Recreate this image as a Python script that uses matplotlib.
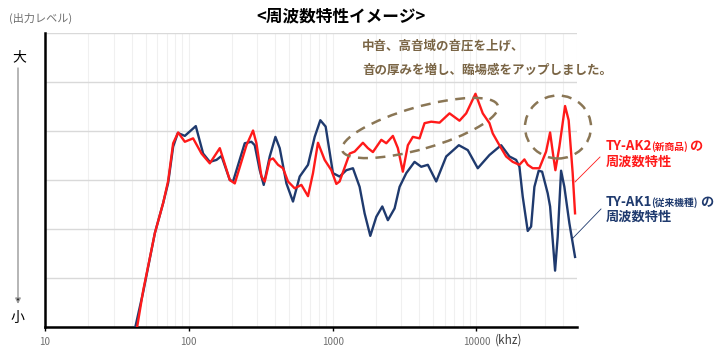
import numpy as np
import matplotlib.pyplot as plt
from matplotlib.patches import Ellipse

plt.rcParams['font.family'] = ['Noto Sans CJK JP', 'DejaVu Sans']

# TY-AK1 (従来機種)
ak1_freq = [41.0, 48.2, 58.1, 66.3, 71.8, 77.8, 83.9, 93.8, 111.8, 125.7, 139.9, 155.7, 168.7,
            192.7, 203, 244.8, 272.5, 287.3, 311.3, 331.7, 365.2, 400, 428.5, 477, 530, 590,
            674, 750, 821, 894, 1005, 1118, 1245, 1384, 1540, 1668, 1827, 2012, 2214, 2421,
            2696, 2920, 3250, 3710, 4130, 4590, 5250, 6160, 7540, 8700, 10210, 12310, 14840,
            16950, 18870, 19890, 20970, 22720, 23980, 25280, 27080, 28600, 31270, 32500,
            33880, 35200, 36700, 38750, 40840, 44240, 48460]
ak1_level = [-2, 7.2, 19.2, 25.3, 29.4, 36.8, 39.6, 39.0, 41.0, 35.4, 33.7, 34.1, 34.9,
             30.0, 29.7, 37.5, 37.8, 37.1, 32.0, 29.0, 34.8, 38.8, 36.5, 29.3, 25.6, 30.7,
             33.1, 38.8, 42.2, 40.9, 31.4, 30.7, 32.0, 32.4, 28.6, 23.2, 18.6, 22.5, 24.6, 21.8,
             24.2, 28.6, 31.4, 33.7, 32.7, 33.1, 29.7, 34.8, 37.1, 36.1, 32.4, 35.1, 37.1,
             34.8, 34.1, 32.7, 26.6, 19.6, 20.5, 28.6, 31.9, 31.7, 27.3, 24.6,
             17.8, 11.5, 18.4, 31.9, 28.6, 21.2, 14.3]

# TY-AK2 (新商品)
ak2_freq = [42.6, 48.2, 58.1, 66.3, 71.8, 77.8, 84.3, 93.8, 107.1, 122.5, 139.9, 164.2, 192.7,
            208.7, 251.6, 279.6, 295.2, 319.8, 337.1, 365.2, 384.9, 417.1, 451.7, 489.4, 544.6,
            606.2, 674, 730, 790.6, 879.9, 979.5, 1061, 1118, 1313, 1422, 1623, 1759, 1905,
            2179, 2360, 2623, 2841, 3077, 3334, 3611, 4020, 4355, 4846, 5535, 6494, 7620,
            8482, 9842, 11060, 12310, 12980, 14440, 16080, 17870, 19890, 21540, 22720,
            24600, 27380, 30480, 32500, 34250, 35380, 37710, 41300, 43750, 46650, 48460]
ak2_level = [-2, 7.5, 19.2, 25.3, 29.8, 37.5, 39.7, 37.8, 38.5, 35.4, 33.4, 36.5, 30.0,
             29.3, 37.1, 40.1, 37.5, 30.7, 29.7, 34.1, 34.4, 33.1, 32.4, 29.7, 28.3,
             29.0, 26.7, 31.4, 37.6, 34.1, 32.0, 29.2, 29.7, 35.4, 35.8, 37.6, 36.5, 35.7,
             38.2, 37.5, 39.0, 36.5, 31.7, 37.1, 38.8, 38.5, 41.6, 41.9, 41.7, 43.6, 42.1,
             43.6, 47.6, 43.6, 41.6, 39.5, 37.1, 34.8, 33.7, 33.1, 34.2, 33.1,
             32.4, 32.4, 35.8, 39.7, 34.8, 32.0, 36.8, 45.1, 42.2, 31.4, 23.2]

xticks = [10, 100, 1000, 10000]
xtick_labels = ['10', '100', '1000', '10000']

red = '#ff1a1a'
navy = '#1f3a6e'
brown = '#8a7655'
W, H = 720, 354


def px(x, y):
    # pixel position (from top-left) -> figure fraction
    return x / W, 1 - y / H


fig = plt.figure(figsize=(7.2, 3.54), dpi=100)
ax = fig.add_axes([45 / W, 27 / H, (577 - 45) / W, (327 - 33) / H])

ax.plot(ak1_freq, ak1_level, color=navy, lw=1.7, zorder=3, solid_joinstyle='round')
ax.plot(ak2_freq, ak2_level, color=red, lw=1.7, zorder=4, solid_joinstyle='round')

ax.set_xscale('log')
ax.set_xlim(10, 50000)
ax.set_ylim(0, 60)
ax.set_yticks(np.arange(0, 61, 10))
ax.set_yticklabels([])
ax.tick_params(axis='y', length=0)
ax.set_xticks(xticks)
ax.set_xticklabels(xtick_labels, fontsize=7, color='#707070')
ax.tick_params(axis='x', which='major', length=3, width=1, color='black', pad=4)
ax.tick_params(axis='x', which='minor', length=0)
ax.grid(True, axis='y', color='#d9d9d9', lw=1)
ax.grid(True, axis='x', which='both', color='#f0f0f0', lw=0.8)
for s in ['top', 'right']:
    ax.spines[s].set_visible(False)
ax.spines['left'].set_linewidth(1.8)
ax.spines['bottom'].set_linewidth(1.8)

# dashed highlight ellipses (positions in inches from bottom-left)
e1 = Ellipse((4.20, (H - 128) / 100), 1.62, 0.42, angle=16, fill=False,
             ls=(0, (4, 3)), lw=1.8, ec=brown, transform=fig.dpi_scale_trans, zorder=5)
e2 = Ellipse((5.58, (H - 127) / 100), 0.66, 0.63, angle=0, fill=False,
             ls=(0, (4, 3)), lw=1.8, ec=brown, transform=fig.dpi_scale_trans, zorder=5)
fig.add_artist(e1)
fig.add_artist(e2)

# titles and labels
fig.text(*px(341, 16), '<周波数特性イメージ>', ha='center', va='center',
         fontsize=12, fontweight='bold', color='black')
fig.text(*px(9, 18), '(出力レベル)', ha='left', va='center', fontsize=8, color='#707070')
fig.text(*px(19, 57), '大', ha='center', va='center', fontsize=10, color='black')
fig.text(*px(17, 318), '小', ha='center', va='center', fontsize=10, color='black')
ax.annotate('', xy=px(18, 304), xytext=px(18, 68), xycoords='figure fraction',
            textcoords='figure fraction',
            arrowprops=dict(arrowstyle='-|>', color='#999999', lw=1, mutation_scale=8,
                            shrinkA=0, shrinkB=0, fc='black', ec='#999999'))

fig.text(*px(362, 46), '中音、高音域の音圧を上げ、', ha='left', va='center',
         fontsize=9, fontweight='bold', color='#7a6545')
fig.text(*px(362, 70), '音の厚みを増し、臨場感をアップしました。', ha='left', va='center',
         fontsize=9, fontweight='bold', color='#7a6545')

fig.text(*px(495, 340), '(khz)', ha='left', va='center', fontsize=8.5, color='#404040')

# legend labels
fig.text(*px(606, 146), 'TY-AK2', ha='left', va='center', fontsize=9.5, fontweight='bold', color=red)
fig.text(*px(651, 147), '(新商品)', ha='left', va='center', fontsize=7, fontweight='bold', color=red)
fig.text(*px(689, 146), 'の', ha='left', va='center', fontsize=9.5, fontweight='bold', color=red)
fig.text(*px(606, 162), '周波数特性', ha='left', va='center', fontsize=9.5, fontweight='bold', color=red)
fig.add_artist(plt.Line2D([575 / W, 600 / W], [1 - 182 / H, 1 - 157 / H], color=red, lw=0.6))

fig.text(*px(606, 202), 'TY-AK1', ha='left', va='center', fontsize=9.5, fontweight='bold', color=navy)
fig.text(*px(651, 203), '(従来機種)', ha='left', va='center', fontsize=7, fontweight='bold', color=navy)
fig.text(*px(700, 202), 'の', ha='left', va='center', fontsize=9.5, fontweight='bold', color=navy)
fig.text(*px(606, 217), '周波数特性', ha='left', va='center', fontsize=9.5, fontweight='bold', color=navy)
fig.add_artist(plt.Line2D([573 / W, 601 / W], [1 - 238 / H, 1 - 209 / H], color=navy, lw=0.6))

fig.savefig('out.png', dpi=100)
